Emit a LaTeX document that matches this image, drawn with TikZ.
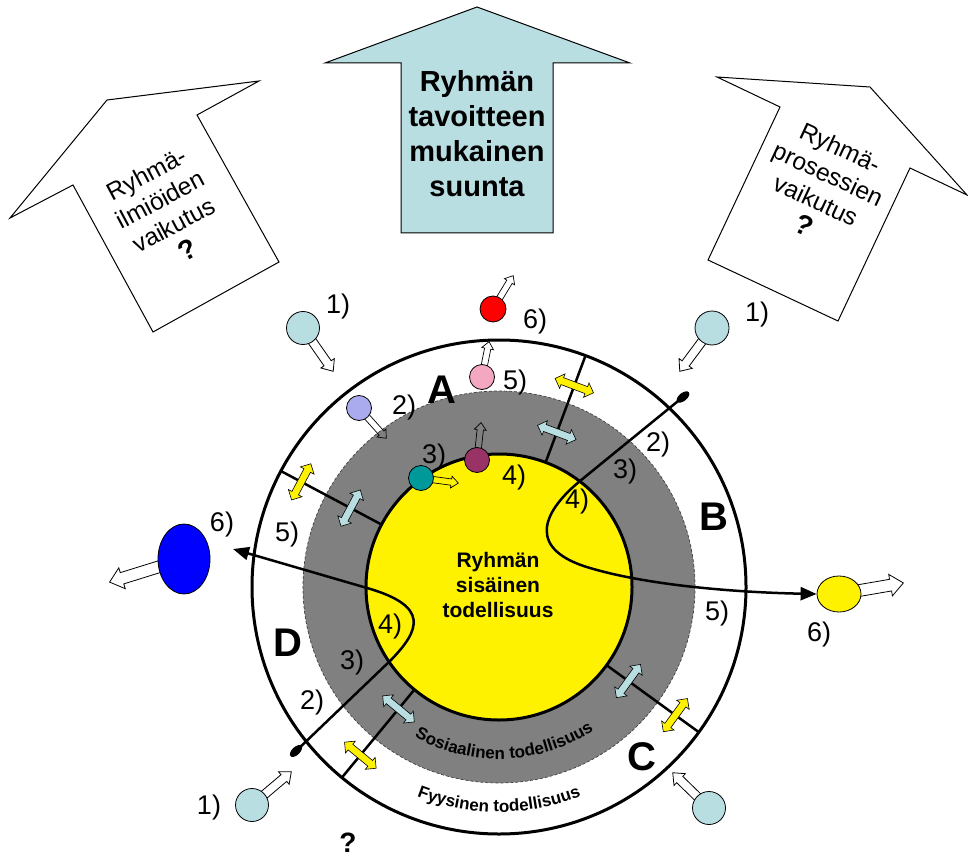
\documentclass[tikz,border=0pt]{standalone}
\usepackage{fontspec}
\setmainfont{Liberation Sans}
\usetikzlibrary{calc,shapes.arrows,shapes.geometric,arrows.meta,decorations.text}
\definecolor{lblue}{RGB}{185,222,226}
\definecolor{lav}{RGB}{170,170,238}
\definecolor{pinkb}{RGB}{243,167,193}
\definecolor{tealb}{RGB}{0,153,153}
\definecolor{maroonb}{RGB}{153,51,102}
\definecolor{midgray}{RGB}{128,128,128}
\begin{document}
\begin{tikzpicture}[x=1pt,y=-1pt,
  lbl/.style={inner sep=0pt, font=\fontsize{27}{30}\selectfont},
  letter/.style={inner sep=0pt, font=\bfseries\fontsize{40}{44}\selectfont},
  ball/.style={circle, draw=black, line width=0.8pt, inner sep=0pt, minimum size=#1},
  harrow/.style={single arrow, draw=black, line width=0.8pt, inner sep=0pt, inner ysep=4pt,
     single arrow head extend=3.8pt, single arrow tip angle=80, allow upside down, sloped,
     pos=0, anchor=tail, minimum height=#1},
  larrow/.style={single arrow, draw=black, line width=0.8pt, inner sep=0pt, inner ysep=5.5pt,
     single arrow head extend=5pt, single arrow tip angle=80, allow upside down, sloped,
     pos=0, anchor=tail, minimum height=#1},
  sarrow/.style={single arrow, draw=black, line width=0.7pt, inner sep=0pt, inner ysep=2.8pt,
     single arrow head extend=2.8pt, single arrow tip angle=80, allow upside down, sloped,
     pos=0, anchor=tail, minimum height=#1},
  dbl/.style={double arrow, draw=black, line width=0.6pt, inner sep=0pt, inner ysep=3.4pt,
     double arrow head extend=4pt, double arrow tip angle=90, minimum height=41pt},
  spoke/.style={line width=2.5pt},
  flow/.style={line width=2.5pt, -{Triangle[length=16pt,width=13pt]}},
  drop/.style={ellipse, fill=black, inner sep=0pt, minimum width=15pt, minimum height=8pt},
  sidetext/.style={align=center, inner sep=0pt, font=\fontsize{24.5}{29}\selectfont}
]
\useasboundingbox (0,0) rectangle (968,858);
\coordinate (C) at (499,587);

% ---- big arrows ----
\draw[line width=1pt, fill=white] (107,100) -- (259,81) -- (197,115) -- (279,262) -- (153,332) -- (73,185) -- (10,218) -- cycle;
\draw[line width=1pt, fill=white] (870,87) -- (967,195) -- (910,168) -- (838,321) -- (708,260) -- (780,107) -- (717,77) -- cycle;
\draw[line width=1pt, fill=lblue] (477,7) -- (630,63) -- (553,63) -- (553,233) -- (401,233) -- (401,63) -- (325,63) -- cycle;

\node[sidetext, rotate=28] (lefttext) at (167,212) {Ryhmä-\\ilmiöiden\\vaikutus\\{\bfseries\fontsize{28}{28}\selectfont ?}};
\node[sidetext, rotate=-25] (righttext) at (822,187) {Ryhmä-\\prosessien\\vaikutus\\{\bfseries\fontsize{28}{28}\selectfont ?}};
\node[align=center, inner sep=0pt, font=\bfseries\fontsize{29}{35}\selectfont] (goal) at (477,134) {Ryhmän\\tavoitteen\\mukainen\\suunta};

% ---- circles ----
\node[circle, draw=black, fill=white, line width=3pt, minimum size=494pt, inner sep=0pt] (outer) at (C) {};
\node[circle, fill=midgray, draw=black!75, densely dashed, line width=0.7pt, minimum size=392pt, inner sep=0pt] (social) at (C) {};
\foreach \a in {69.5,152,230.5,-36}{
  \draw[spoke] ($(C)+(-\a:120)$) -- ($(C)+(-\a:247)$);
}
\node[circle, fill=yellow, draw=black, line width=3pt, minimum size=266pt, inner sep=0pt] (inner) at (C) {};
\node[align=center, inner sep=0pt, font=\bfseries\fontsize{21}{25}\selectfont] (inner text) at (498,585) {Ryhmän\\sisäinen\\todellisuus};

% ---- double arrows ----
\node[dbl, fill=yellow, rotate=159.5] (d1y) at ($(C)+(-69.5:215)$) {};
\node[dbl, fill=lblue, rotate=159.5] (d1b) at ($(C)+(-69.5:165)$) {};
\node[dbl, fill=yellow, rotate=242] (d2y) at ($(C)+(-152:224)$) {};
\node[dbl, fill=lblue, rotate=242] (d2b) at ($(C)+(-152:168)$) {};
\node[dbl, fill=yellow, rotate=320.5] (d3y) at ($(C)+(-230.5:218)$) {};
\node[dbl, fill=lblue, rotate=320.5] (d3b) at ($(C)+(-230.5:158)$) {};
\node[dbl, fill=yellow, rotate=54] (d4y) at ($(C)+(36:218)$) {};
\node[dbl, fill=lblue, rotate=54] (d4b) at ($(C)+(36:160)$) {};

% ---- curved labels ----
\path[decorate, decoration={text along path, text align=center,
   text={|\bfseries\fontsize{17}{19}\selectfont|Sosiaalinen todellisuus}}]
   ($(C)+(-222:172)$) arc[start angle=-222, end angle=-322, radius=172];
\path[decorate, decoration={text along path, text align=center,
   text={|\bfseries\fontsize{17}{19}\selectfont|Fyysinen todellisuus}}]
   ($(C)+(-220:225)$) arc[start angle=-220, end angle=-320, radius=225];

% ---- hollow arrows (drawn before their balls) ----
\coordinate (p1) at (303,328); \coordinate (t1) at (333,371);
\coordinate (p2) at (712,328); \coordinate (t2) at (680,371);
\coordinate (p3) at (709,808); \coordinate (t3) at (673,773);
\coordinate (p4) at (252,805); \coordinate (t4) at (291,772);
\coordinate (p5) at (493,309); \coordinate (t5) at (513,276);
\coordinate (p6) at (482,377); \coordinate (t6) at (489,342);
\coordinate (p7) at (359,408); \coordinate (t7) at (386,438);
\coordinate (p8) at (421,478); \coordinate (t8) at (458,483);
\coordinate (p9) at (477,460); \coordinate (t9) at (481,423);
\coordinate (p10) at (184,559); \coordinate (t10) at (110,582);
\coordinate (p11) at (839,594); \coordinate (t11) at (903,583);

\path (p1) -- (t1) node[harrow=52.4] (h1) {};
\path (p2) -- (t2) node[harrow=53.6] (h2) {};
\path (p3) -- (t3) node[harrow=50.2] (h3) {};
\path (p4) -- (t4) node[harrow=51.1] (h4) {};
\path (p5) -- (t5) node[sarrow=38.6] (h5) {};
\path (p6) -- (t6) node[sarrow=35.7] (h6) {};
\path (p7) -- (t7) node[sarrow=40.4] (h7) {};
\path (p8) -- (t8) node[sarrow=37.3] (h8) {};
\path (p9) -- (t9) node[sarrow=37.2] (h9) {};
\path (p10) -- (t10) node[larrow=77.5] (h10) {};
\path (p11) -- (t11) node[larrow=64.9] (h11) {};

% ---- balls ----
\node[ball=33pt, fill=lblue] (b1) at (p1) {};
\node[ball=34pt, fill=lblue] (b2) at (p2) {};
\node[ball=33pt, fill=lblue] (b3) at (p3) {};
\node[ball=33pt, fill=lblue] (b4) at (p4) {};
\node[ball=26pt, fill=red] (b5) at (p5) {};
\node[ball=25pt, fill=pinkb] (b6) at (p6) {};
\node[ball=25pt, fill=lav] (b7) at (p7) {};
\node[ball=25pt, fill=tealb] (b8) at (p8) {};
\node[ball=25pt, fill=maroonb] (b9) at (p9) {};
\node[ellipse, draw=black, line width=0.8pt, fill=blue, inner sep=0pt, minimum width=52pt, minimum height=70pt] (blueE) at (p10) {};
\node[ellipse, draw=black, line width=0.8pt, fill=yellow, inner sep=0pt, minimum width=44pt, minimum height=36pt] (yE) at (p11) {};

% ---- flow paths ----
\node[drop, rotate=39] (dropB) at (683,397) {};
\node[drop, rotate=44] (dropD) at (296,751) {};
\coordinate (tipD) at (233,549);
\draw[flow] (dropB.center) -- (580,481) .. controls (540,514) and (528,550) .. (590,568)
   .. controls (640,583) and (720,592) .. (yE.west);
\draw[flow] (dropD.center) -- (391,660) .. controls (420,630) and (430,606) .. (367,588) -- (tipD);

% ---- labels ----
\node[lbl] (n1a) at (338,307) {1)};
\node[lbl] (n1b) at (757,315) {1)};
\node[lbl] (n1c) at (209,808) {1)};
\node[lbl] (n6a) at (535,322) {6)};
\node[lbl] (n6b) at (222,525) {6)};
\node[lbl] (n6c) at (819,635) {6)};
\node[lbl] (n5a) at (515,383) {5)};
\node[lbl] (n5b) at (287,535) {5)};
\node[lbl] (n5c) at (717,614) {5)};
\node[lbl] (n2a) at (404,408) {2)};
\node[lbl] (n2b) at (658,445) {2)};
\node[lbl] (n2c) at (312,703) {2)};
\node[lbl] (n3a) at (434,457) {3)};
\node[lbl] (n3b) at (625,472) {3)};
\node[lbl] (n3c) at (352,663) {3)};
\node[lbl] (n4a) at (514,478) {4)};
\node[lbl] (n4b) at (577,502) {4)};
\node[lbl] (n4c) at (390,627) {4)};
\node[letter] (LA) at (442,390) {A};
\node[letter] (LB) at (714,517) {B};
\node[letter] (LC) at (642,757) {C};
\node[letter] (LD) at (288,643) {D};
\node[inner sep=0pt, anchor=base, font=\bfseries\fontsize{28}{30}\selectfont] (qbottom) at (348,852) {?};
\end{tikzpicture}
\end{document}
